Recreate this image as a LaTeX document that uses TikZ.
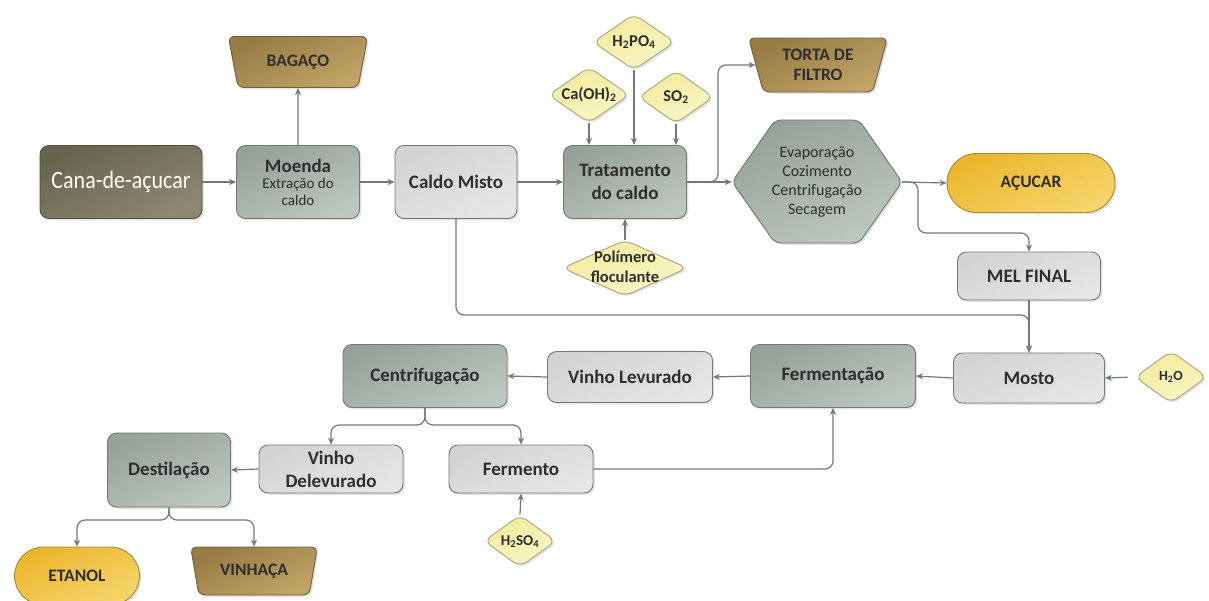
\documentclass[tikz,border=0pt]{standalone}
\usepackage{fontspec}
\setmainfont{Carlito}
\newfontfamily\canafont{Carlito}[FakeStretch=0.88]
\usetikzlibrary{shapes.geometric,shapes.misc,shadows,arrows.meta}
\newcommand\myfs[2]{\fontsize{#1}{#2}\selectfont}
\newcommand\zbox[1]{\smash{\makebox[0pt]{\raisebox{-0.28em}{\begin{tabular}[c]{@{}c@{}}#1\end{tabular}}}}}
\definecolor{edgec}{HTML}{6E7A72}
\definecolor{arrc}{HTML}{6F7B73}
\definecolor{olA}{HTML}{66634F}
\definecolor{olB}{HTML}{8C8874}
\definecolor{ggA}{HTML}{96A199}
\definecolor{ggB}{HTML}{BDC7C0}
\definecolor{lgA}{HTML}{D3D3D3}
\definecolor{lgB}{HTML}{E6E6E6}
\definecolor{dyA}{HTML}{F2EB9C}
\definecolor{dyB}{HTML}{F9F6C8}
\definecolor{dyE}{HTML}{A8A67C}
\definecolor{brA}{HTML}{957B44}
\definecolor{brB}{HTML}{C2A466}
\definecolor{brE}{HTML}{6E6040}
\definecolor{yeA}{HTML}{EBB62C}
\definecolor{yeB}{HTML}{F6D56C}
\definecolor{yeE}{HTML}{A88A30}
\definecolor{txt}{HTML}{2E2E2E}
\tikzset{
  nodebase/.style={draw=edgec, line width=0.9pt, text=txt, align=center, inner sep=2pt,
    drop shadow={shadow xshift=1.8pt, shadow yshift=-1.8pt, opacity=0.22}},
  rbox/.style={nodebase, rectangle, rounded corners=9pt},
  olbox/.style={rbox, top color=olA, bottom color=olB, shading angle=25, draw=olA!80!black,
    text=white, font=\canafont\myfs{25}{28}},
  ggbox/.style={rbox, top color=ggA, bottom color=ggB, shading angle=25, font=\bfseries\myfs{19}{23}},
  lgbox/.style={rbox, top color=lgA, bottom color=lgB, shading angle=25, font=\bfseries\myfs{19}{23}},
  diam/.style={nodebase, diamond, rounded corners=8pt, inner sep=0pt, draw=dyE,
    top color=dyA, bottom color=dyB, shading angle=25, font=\bfseries\myfs{16.5}{20}},
  trapbox/.style={nodebase, trapezium, trapezium angle=74, trapezium stretches=true,
    shape border rotate=180, rounded corners=6pt, draw=brE,
    top color=brA, bottom color=brB, shading angle=25, font=\bfseries\myfs{17.5}{20}},
  stadbox/.style={nodebase, rounded rectangle, draw=yeE,
    top color=yeA, bottom color=yeB, shading angle=25, font=\bfseries\myfs{17.5}{20}},
  hexshape/.style={draw=edgec, line width=0.9pt, rounded corners=6pt,
    top color=ggA, bottom color=ggB, shading angle=25,
    drop shadow={shadow xshift=1.8pt, shadow yshift=-1.8pt, opacity=0.22}},
  hextext/.style={draw=none, inner sep=0pt, align=center, text=txt, font=\myfs{16}{19}},
  conn/.style={draw=arrc, line width=1.2pt, rounded corners=8pt, -{Stealth[length=7pt,width=6pt]}}
}
\begin{document}
\begin{tikzpicture}[x=1pt,y=-1pt]
\useasboundingbox (0,0) rectangle (1209,600);
\fill[white] (0,0) rectangle (1209,600);

% hexagon shape
\path[hexshape] (732,182) -- (775,120) -- (859,120) -- (902,182) -- (859,243) -- (775,243) -- cycle;
\node[hextext, minimum width=170pt, minimum height=123pt] (hex) at (817,182) {Evaporação\\Cozimento\\Centrifugação\\Secagem};

% top row
\node[olbox, minimum width=162pt, minimum height=73pt] (cana) at (121,182) {Cana-de-açucar};
\node[ggbox, minimum width=123pt, minimum height=73pt, font=\myfs{15}{16.5}] (moenda) at (298,182)
  {{\bfseries\myfs{19}{20}Moenda}\\Extração do\\caldo};
\node[trapbox, minimum width=140pt, minimum height=51pt] (bagaco) at (298,62) {BAGAÇO};
\node[lgbox, minimum width=122pt, minimum height=73pt] (caldo) at (456,182) {Caldo Misto};
\node[ggbox, minimum width=123pt, minimum height=73pt] (trat) at (625,182) {Tratamento\\do caldo};
\node[diam, minimum width=81pt, minimum height=56pt] (caoh) at (589,95) {\zbox{Ca(OH)\textsubscript{2}}};
\node[diam, minimum width=82pt, minimum height=56pt] (hpo) at (634,42) {\zbox{H\textsubscript{2}PO\textsubscript{4}}};
\node[diam, minimum width=75pt, minimum height=53pt] (so) at (676,97) {\zbox{SO\textsubscript{2}}};
\node[diam, minimum width=125pt, minimum height=56pt] (poli) at (625,268) {\zbox{Polímero\\floculante}};
\node[trapbox, minimum width=140pt, minimum height=54pt] (torta) at (818,65) {TORTA DE\\FILTRO};
\node[stadbox, minimum width=172pt, minimum height=59pt] (acucar) at (1031,183) {AÇUCAR};
\node[lgbox, minimum width=143pt, minimum height=48pt] (mel) at (1029,276) {MEL FINAL};

% middle row
\node[lgbox, minimum width=151pt, minimum height=50pt] (mosto) at (1029,378) {Mosto};
\node[diam, minimum width=72pt, minimum height=52pt, font=\bfseries\myfs{14}{16}] (hdo) at (1171,377) {\zbox{H\textsubscript{2}O}};
\node[ggbox, minimum width=165pt, minimum height=63pt] (ferm) at (833,376) {Fermentação};
\node[lgbox, minimum width=165pt, minimum height=51pt] (vlev) at (630,377) {Vinho Levurado};
\node[ggbox, minimum width=164pt, minimum height=63pt] (cent) at (425,376) {Centrifugação};

% bottom rows
\node[lgbox, minimum width=144pt, minimum height=48pt] (vdel) at (331,469) {Vinho\\Delevurado};
\node[lgbox, minimum width=144pt, minimum height=48pt] (fermento) at (521,469) {Fermento};
\node[diam, minimum width=72pt, minimum height=52pt, font=\bfseries\myfs{15}{17}] (hso) at (520,541) {\zbox{H\textsubscript{2}SO\textsubscript{4}}};
\node[ggbox, minimum width=123pt, minimum height=74pt] (dest) at (169,470) {Destilação};
\node[stadbox, minimum width=129pt, minimum height=58pt] (etanol) at (77,576) {ETANOL};
\node[trapbox, minimum width=127pt, minimum height=48pt] (vinhaca) at (254,571) {VINHAÇA};

% helper coordinates
\coordinate (tb) at (718,182);
\coordinate (hb) at (918,182);
\coordinate (hm) at (918,233);
\coordinate (cm) at (1029,315);
\coordinate (cs) at (425,425);
\coordinate (ds) at (169,520);

% connectors
\draw[conn] (cana) -- (moenda);
\draw[conn] (moenda.north) -- (bagaco.south);
\draw[conn] (moenda) -- (caldo);
\draw[conn] (caldo) -- (trat);
\draw[conn] (caoh.south) -- (caoh.south |- trat.north);
\draw[conn] (hpo.south) -- (hpo.south |- trat.north);
\draw[conn] (so.south) -- (so.south |- trat.north);
\draw[conn] (poli.north) -- (trat.south);
\draw[conn] (trat.east) -- (hex.west);
\draw[conn] (trat.east) -- (tb) |- (torta.west);
\draw[conn] (hex.east) -- (acucar.west);
\draw[conn] (hex.east) -- (hb) -- (hm) -| (mel.north);
\draw[conn] (caldo.south) |- (cm) -- (mosto.north);
\draw[conn] (mel.south) -- (mosto.north);
\draw[conn, shorten <=7pt] (hdo.west) -- (mosto.east);
\draw[conn] (mosto.west) -- (ferm.east);
\draw[conn] (ferm.west) -- (vlev.east);
\draw[conn] (vlev.west) -- (cent.east);
\draw[conn] (cent.south) -- (cs) -| (vdel.north);
\draw[conn] (cent.south) -- (cs) -| (fermento.north);
\draw[conn] (fermento.east) -| (ferm.south);
\draw[conn] (hso.north) -- (fermento.south);
\draw[conn] (vdel.west) -- (dest.east);
\draw[conn] (dest.south) -- (ds) -| (etanol.north);
\draw[conn] (dest.south) -- (ds) -| (vinhaca.north);
\end{tikzpicture}
\end{document}
